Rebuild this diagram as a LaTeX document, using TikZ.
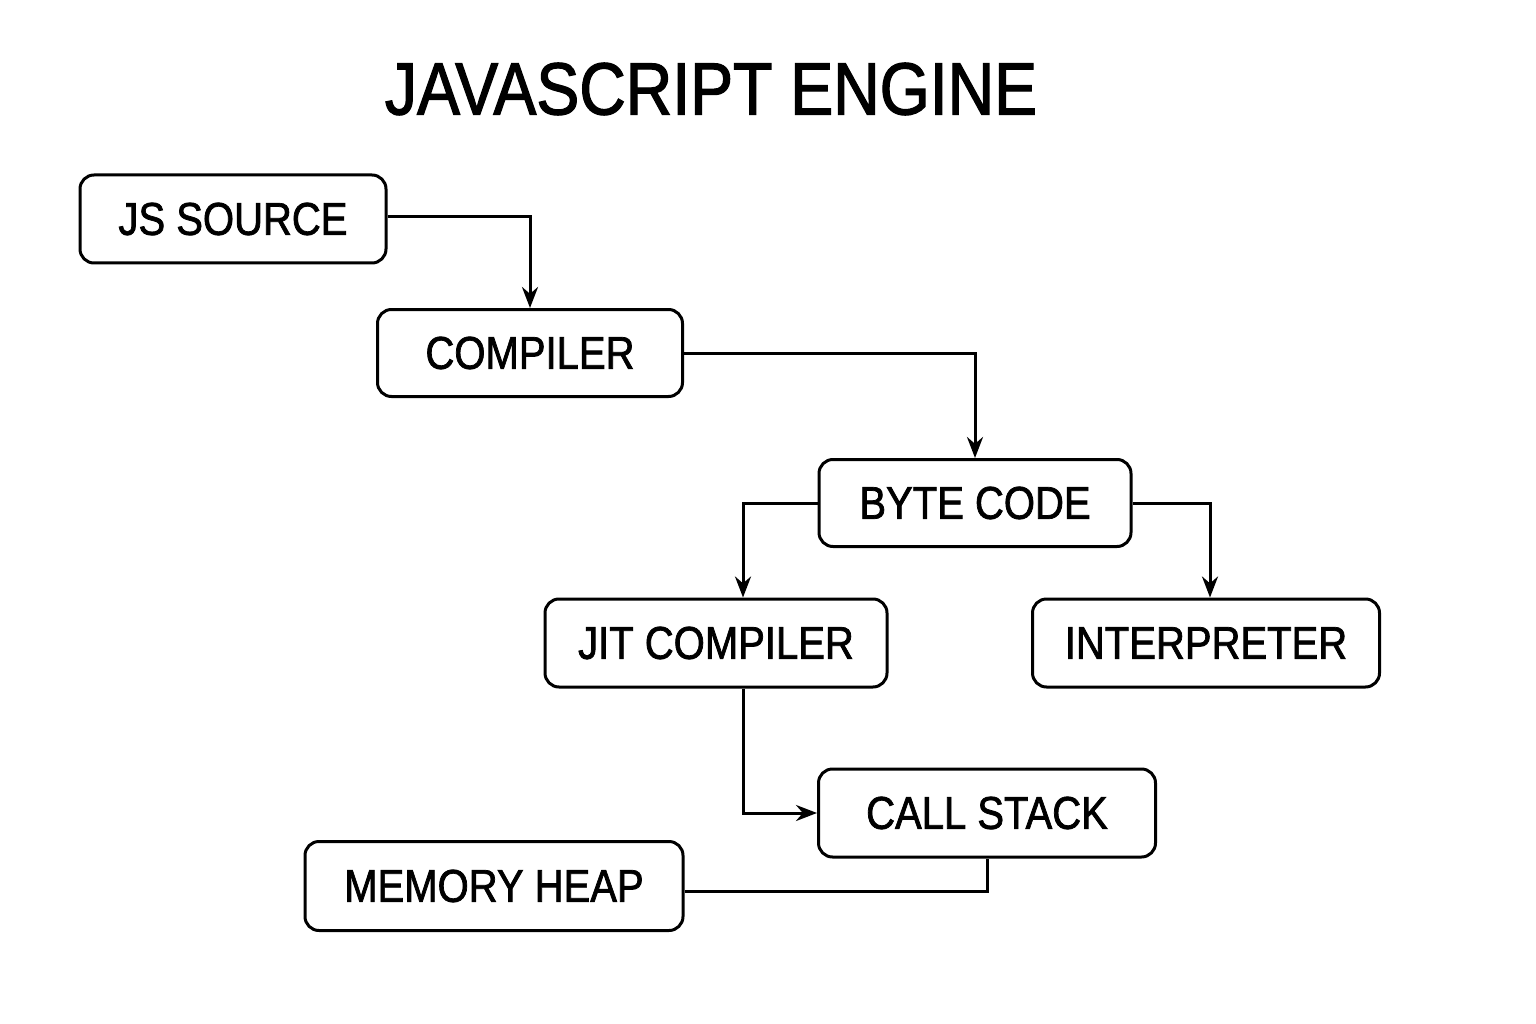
\documentclass[tikz,border=0pt]{standalone}
\usepackage{fontspec}
\setmainfont{Liberation Sans}[FakeStretch=0.87,FakeBold=1.6]
\usetikzlibrary{arrows.meta}
\begin{document}
\begin{tikzpicture}[x=1pt,y=-1pt,
  box/.style={draw=black,line width=3pt,rounded corners=14pt,inner sep=0pt,
    font=\fontsize{46}{50}\selectfont},
  conn/.style={draw=black,line width=3pt},
  arr/.style={conn,-{Stealth[length=21pt,width=16pt]}}]
\useasboundingbox[fill=white] (0,0) rectangle (1536,1024);
\node[font=\fontsize{74}{78}\selectfont] (title) at (711,89) {JAVASCRIPT ENGINE};
\node[box,minimum width=306pt,minimum height=88pt] (js) at (233,219) {JS SOURCE};
\node[box,minimum width=305pt,minimum height=87pt] (comp) at (530,353) {COMPILER};
\node[box,minimum width=312pt,minimum height=87pt] (byte) at (975,503) {BYTE CODE};
\node[box,minimum width=342pt,minimum height=88pt] (jit) at (716,643) {JIT COMPILER};
\node[box,minimum width=347pt,minimum height=88pt] (interp) at (1206,643) {INTERPRETER};
\node[box,minimum width=337pt,minimum height=88pt] (call) at (987,813) {CALL STACK};
\node[box,minimum width=378pt,minimum height=89pt] (mem) at (494,886) {MEMORY HEAP};
\draw[arr] ([yshift=2pt]js.east) -| (comp.north);
\draw[arr] (comp.east) -| (byte.north);
\draw[arr] (byte.west) -| ([xshift=27pt]jit.north);
\draw[arr] (byte.east) -| ([xshift=4pt]interp.north);
\draw[arr] ([xshift=27pt]jit.south) |- (call.west);
\draw[conn] ([yshift=-5pt]mem.east) -| (call.south);
\end{tikzpicture}
\end{document}
